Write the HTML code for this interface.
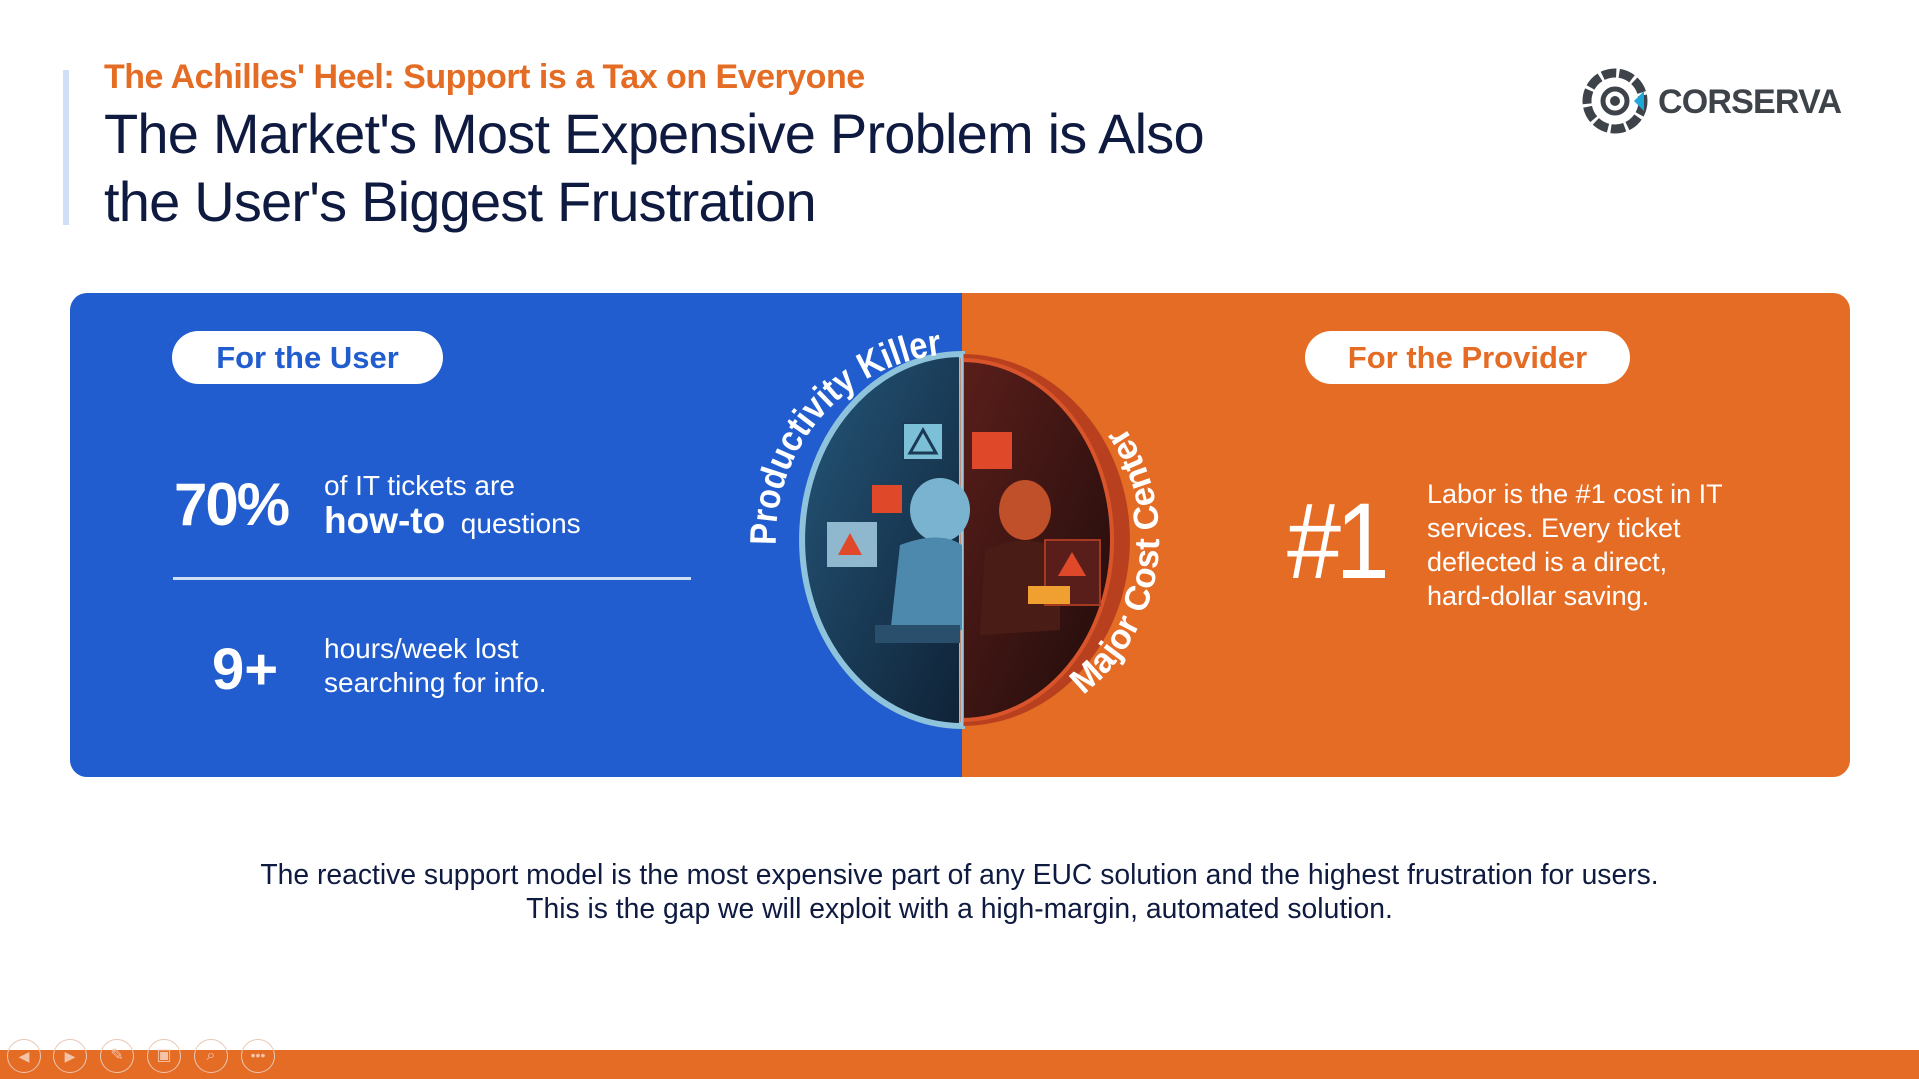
<!DOCTYPE html>
<html><head><meta charset="utf-8">
<style>
*{margin:0;padding:0;box-sizing:border-box}
body{width:1919px;height:1079px;background:#fff;font-family:"Liberation Sans","DejaVu Sans",sans-serif;position:relative;overflow:hidden}
.abs{position:absolute;white-space:nowrap}
</style></head>
<body>
<div class="abs" style="left:63px;top:70px;width:6px;height:155px;background:#cfe0f6"></div>
<div class="abs" style="left:104px;top:58px;font-size:34px;color:#e46c25;font-weight:bold;letter-spacing:-0.5px">The Achilles' Heel: Support is a Tax on Everyone</div>
<div class="abs" style="left:104px;top:100px;font-size:56px;line-height:68px;color:#0f1a40;letter-spacing:-0.8px">The Market's Most Expensive Problem is Also<br>the User's Biggest Frustration</div>

<div class="abs" style="left:1582px;top:66px;width:270px;height:70px">
<svg width="270" height="70" viewBox="0 0 270 70">
<circle cx="33" cy="35" r="28" fill="none" stroke="#3d4349" stroke-width="9" stroke-dasharray="14 3"/>
<circle cx="33" cy="35" r="12" fill="none" stroke="#3d4349" stroke-width="5"/>
<circle cx="33" cy="35" r="5" fill="#3d4349"/>
<path d="M52 35 L62 25 L62 45 Z" fill="#1ea7d8"/>
<text x="76" y="47" font-size="34" font-weight="bold" fill="#3d4349" font-family="Liberation Sans, sans-serif" letter-spacing="2" textLength="186">CORSERVA</text>
</svg></div>

<div class="abs" style="left:70px;top:293px;width:893px;height:484px;background:#215dce;border-radius:17px 0 0 17px"></div>
<div class="abs" style="left:962px;top:293px;width:888px;height:484px;background:#e46c25;border-radius:0 17px 17px 0"></div>

<div class="abs" style="left:172px;top:331px;width:271px;height:53px;background:#fff;border-radius:27px;color:#215dce;font-size:31px;font-weight:bold;text-align:center;line-height:53px">For the User</div>
<div class="abs" style="left:1305px;top:331px;width:325px;height:53px;background:#fff;border-radius:27px;color:#e46c25;font-size:31px;font-weight:bold;text-align:center;line-height:53px">For the Provider</div>

<div class="abs" style="left:174px;top:470px;font-size:60px;font-weight:bold;color:#fff;letter-spacing:-2px">70%</div>
<div class="abs" style="left:324px;top:470px;font-size:28px;color:#fff">of IT tickets are</div>
<div class="abs" style="left:324px;top:500px;font-size:28px;color:#fff"><b style="font-size:37px">how-to</b>&nbsp; questions</div>
<div class="abs" style="left:173px;top:577px;width:518px;height:3px;background:#cfe0f6"></div>
<div class="abs" style="left:212px;top:636px;font-size:58px;font-weight:bold;color:#fff">9+</div>
<div class="abs" style="left:324px;top:632px;font-size:28px;line-height:34px;color:#fff">hours/week lost<br>searching for info.</div>

<div class="abs" style="left:1287px;top:487px;font-size:108px;line-height:108px;color:#fff;letter-spacing:-6px;transform:scaleX(0.9);transform-origin:left">#1</div>
<div class="abs" style="left:1427px;top:477px;font-size:27px;line-height:34px;color:#fff">Labor is the #1 cost in IT<br>services. Every ticket<br>deflected is a direct,<br>hard-dollar saving.</div>

<svg class="abs" style="left:700px;top:290px" width="520" height="460" viewBox="0 0 520 460">
<defs>
<linearGradient id="gb" x1="0" y1="0" x2="1" y2="1"><stop offset="0" stop-color="#25577a"/><stop offset="1" stop-color="#0f2236"/></linearGradient>
<linearGradient id="gr" x1="0" y1="0" x2="1" y2="1"><stop offset="0" stop-color="#5a1e1a"/><stop offset="1" stop-color="#1f0c0b"/></linearGradient>
<path id="arcL" d="M 76 255 A 185 185 0 0 1 248 64"/>
<path id="arcR" d="M 383 405 A 198 198 0 0 0 413 122"/>
</defs>
<path d="M 262 64 A 160 186 0 0 0 262 436 Z" fill="url(#gb)" stroke="#8fc3dc" stroke-width="6"/>
<path d="M 262 64 A 168 186 0 0 1 262 436 Z" fill="#b8401f"/>
<path d="M 262 70 A 150 180 0 0 1 262 430 Z" fill="url(#gr)" stroke="#d9542a" stroke-width="4"/>
<line x1="262" y1="64" x2="262" y2="436" stroke="#9dc6d8" stroke-width="3"/>
<rect x="203" y="133" width="40" height="37" fill="#7cc0d8" stroke="#1a3a55" stroke-width="2"/>
<path d="M223 140 L236 163 L210 163 Z" fill="none" stroke="#1a3a55" stroke-width="3"/>
<rect x="172" y="195" width="30" height="28" fill="#e0482a"/>
<rect x="127" y="232" width="50" height="45" fill="#8fb8cf"/>
<path d="M150 243 L162 265 L138 265 Z" fill="#e0482a"/>
<ellipse cx="240" cy="220" rx="30" ry="32" fill="#7ab3cf"/>
<path d="M200 255 Q240 240 262 255 L262 340 L190 345 Z" fill="#4d89ad"/>
<rect x="175" y="335" width="85" height="18" fill="#2a4f6c"/>
<rect x="272" y="142" width="40" height="37" fill="#e0482a"/>
<ellipse cx="325" cy="220" rx="26" ry="30" fill="#c0502a"/>
<path d="M285 260 Q330 240 360 262 L360 340 L280 345 Z" fill="#4a1c16"/>
<rect x="345" y="250" width="55" height="65" fill="#5a1e1a" stroke="#a53a20" stroke-width="2"/>
<path d="M372 262 L386 286 L358 286 Z" fill="#e0482a"/>
<rect x="328" y="296" width="42" height="18" fill="#f0a030"/>
<text font-size="37" font-weight="bold" fill="#fff" font-family="Liberation Sans, sans-serif"><textPath href="#arcL" textLength="278" lengthAdjust="spacingAndGlyphs">Productivity Killer</textPath></text>
<text font-size="35" font-weight="bold" fill="#fff" font-family="Liberation Sans, sans-serif"><textPath href="#arcR" textLength="300" lengthAdjust="spacingAndGlyphs">Major Cost Center</textPath></text>
</svg>

<div class="abs" style="left:0;width:1919px;top:857px;font-size:28.3px;line-height:34px;color:#0f1a40;text-align:center">The reactive support model is the most expensive part of any EUC solution and the highest frustration for users.<br>This is the gap we will exploit with a high-margin, automated solution.</div>

<div class="abs" style="left:0;top:1050px;width:1919px;height:29px;background:#e46c25"></div>
<div class="abs" style="left:7px;top:1039px;width:34px;height:34px;border:1px solid #e9c7b4;border-radius:50%;color:#f3c4a8;font-size:14px;text-align:center;line-height:32px">◀</div>
<div class="abs" style="left:53px;top:1039px;width:34px;height:34px;border:1px solid #e9c7b4;border-radius:50%;color:#f3c4a8;font-size:14px;text-align:center;line-height:32px">▶</div>
<div class="abs" style="left:100px;top:1039px;width:34px;height:34px;border:1px solid #e9c7b4;border-radius:50%;color:#f3c4a8;font-size:16px;text-align:center;line-height:32px">✎</div>
<div class="abs" style="left:147px;top:1039px;width:34px;height:34px;border:1px solid #e9c7b4;border-radius:50%;color:#f3c4a8;font-size:16px;text-align:center;line-height:32px">▣</div>
<div class="abs" style="left:194px;top:1039px;width:34px;height:34px;border:1px solid #e9c7b4;border-radius:50%;color:#f3c4a8;font-size:16px;text-align:center;line-height:32px">⌕</div>
<div class="abs" style="left:241px;top:1039px;width:34px;height:34px;border:1px solid #e9c7b4;border-radius:50%;color:#f3c4a8;font-size:14px;text-align:center;line-height:30px">•••</div>
</body></html>
